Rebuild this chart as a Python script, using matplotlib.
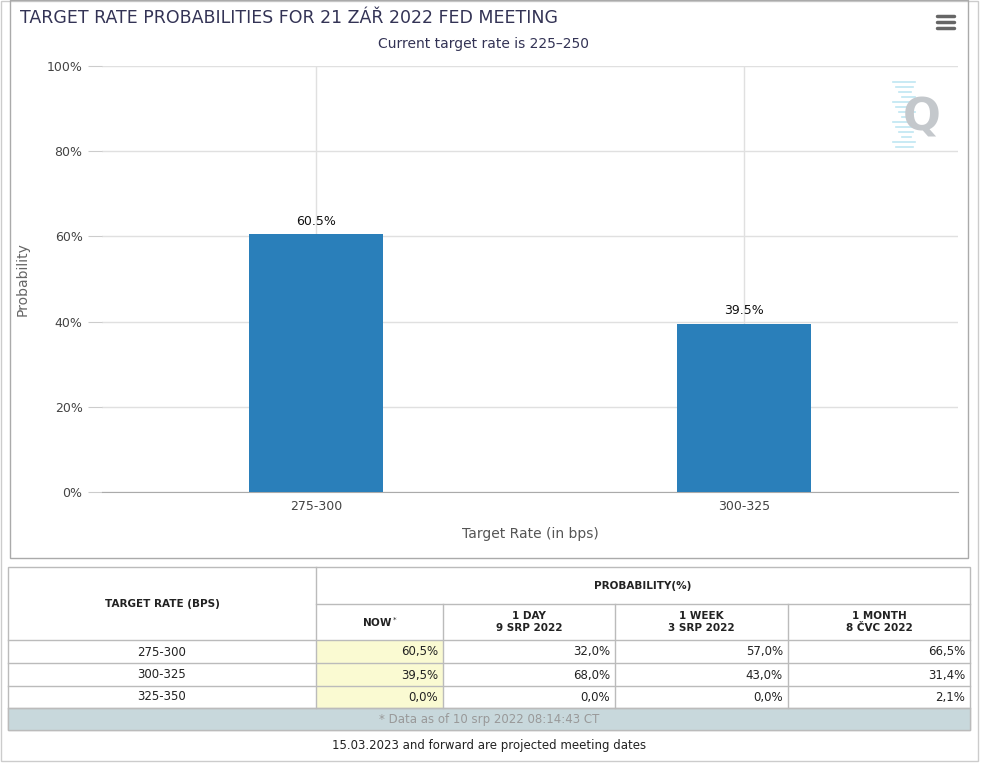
import matplotlib
matplotlib.use("Agg")
import matplotlib.pyplot as plt
from matplotlib.patches import Rectangle

rates = ["275-300", "300-325"]
probs = [60.5, 39.5]

table_rates = ["275-300", "300-325", "325-350"]
now_vals = ["60,5%", "39,5%", "0,0%"]
day_vals = ["32,0%", "68,0%", "0,0%"]
week_vals = ["57,0%", "43,0%", "0,0%"]
month_vals = ["66,5%", "31,4%", "2,1%"]
col_heads = ["NOW", "1 DAY\n9 SRP 2022", "1 WEEK\n3 SRP 2022", "1 MONTH\n8 ČVC 2022"]

W, H = 983, 767
fig = plt.figure(figsize=(W / 100, H / 100), dpi=100)
fig.patch.set_facecolor("white")

# background axes in pixel coordinates
bg = fig.add_axes([0, 0, 1, 1])
bg.set_xlim(0, W)
bg.set_ylim(H, 0)
bg.axis("off")

bg.add_patch(Rectangle((1, 1), 977, 760, fill=False, ec="#cccccc", lw=1))
bg.add_patch(Rectangle((10, 0), 958, 558, fill=False, ec="#aaaaaa", lw=1))

bg.text(20, 18, "TARGET RATE PROBABILITIES FOR 21 ZÁŘ 2022 FED MEETING",
        fontsize=12.5, color="#333355", va="center", ha="left")
bg.text(483, 44, "Current target rate is 225–250", fontsize=10,
        color="#333355", va="center", ha="center")
for yy in (16, 22, 28):
    bg.plot([937, 954], [yy, yy], color="#666666", lw=2.5, solid_capstyle="round")
bg.text(922, 118, "Q", fontsize=32, color="#c4c8cc", ha="center", va="center",
        fontweight="bold", zorder=5)
for i, yy in enumerate(range(82, 152, 5)):
    bg.plot([893 + i % 4 * 3, 915 - i % 3 * 2], [yy, yy], color="#bfe6f2", lw=1.2)

# chart
ax = fig.add_axes([102 / W, 1 - 492 / H, (958 - 102) / W, (492 - 66) / H])
ax.patch.set_alpha(0)
x = list(range(len(rates)))
ax.bar(x, probs, width=0.315, color="#2a7fba", zorder=3)
for xi, p in zip(x, probs):
    ax.text(xi, p + 1.5, f"{p}%", ha="center", va="bottom", fontsize=9, color="#111111")
ax.set_xlim(-0.5, len(rates) - 0.5)
ax.set_ylim(0, 100)
ax.set_yticks(range(0, 101, 20))
ax.set_yticklabels([f"{v}%" for v in range(0, 101, 20)], fontsize=9, color="#444444")
ax.set_xticks(x)
ax.set_xticklabels(rates, fontsize=9, color="#444444")
ax.grid(color="#e0e0e0", lw=1, zorder=0)
for s in ["top", "right", "left"]:
    ax.spines[s].set_visible(False)
ax.spines["bottom"].set_color("#aaaaaa")
ax.tick_params(axis="y", length=10, color="#cccccc", pad=4)
ax.tick_params(axis="x", length=0, pad=6)
ax.set_ylabel("Probability", fontsize=10, color="#666666", labelpad=12)
ax.set_xlabel("Target Rate (in bps)", fontsize=10, color="#555555", labelpad=10)

# table
cols = [8, 316, 443, 615, 788, 970]
bg.add_patch(Rectangle((8, 567), 962, 163, fc="white", ec="#bbbbbb", lw=1))
bg.add_patch(Rectangle((316, 640), 127, 68, fc="#fafad2", ec="none"))
bg.add_patch(Rectangle((8, 708), 962, 22, fc="#c8d8dc", ec="#bbbbbb", lw=1))
line_c = "#bbbbbb"
bg.plot([316, 970], [604, 604], color=line_c, lw=1)
for yy in (640, 663, 686, 708):
    bg.plot([8, 970], [yy, yy], color=line_c, lw=1)
bg.plot([316, 316], [567, 708], color=line_c, lw=1)
for cx in cols[2:5]:
    bg.plot([cx, cx], [604, 708], color=line_c, lw=1)

fs = 7.5
bg.text(162, 604, "TARGET RATE (BPS)", fontsize=fs, ha="center", va="center",
        fontweight="bold", color="#222222")
bg.text(643, 586, "PROBABILITY(%)", fontsize=fs, ha="center", va="center",
        fontweight="bold", color="#222222")
for i, h in enumerate(col_heads):
    cx = (cols[i + 1] + cols[i + 2]) / 2
    label = h + "$^*$" if h == "NOW" else h
    bg.text(cx, 622, label, fontsize=fs, ha="center", va="center",
            fontweight="bold", color="#222222", linespacing=1.2)

row_y = [652, 675, 697]
for r, y in enumerate(row_y):
    bg.text(162, y, table_rates[r], fontsize=8.5, ha="center", va="center", color="#222222")
    for c, vals in enumerate([now_vals, day_vals, week_vals, month_vals]):
        bg.text(cols[c + 2] - 5, y, vals[r], fontsize=8.5, ha="right",
                va="center", color="#222222")
bg.text(489, 719, "* Data as of 10 srp 2022 08:14:43 CT", fontsize=8.5,
        ha="center", va="center", color="#999999")
bg.text(489, 745, "15.03.2023 and forward are projected meeting dates", fontsize=8.5,
        ha="center", va="center", color="#222222")

fig.savefig("out.png", dpi=100)
